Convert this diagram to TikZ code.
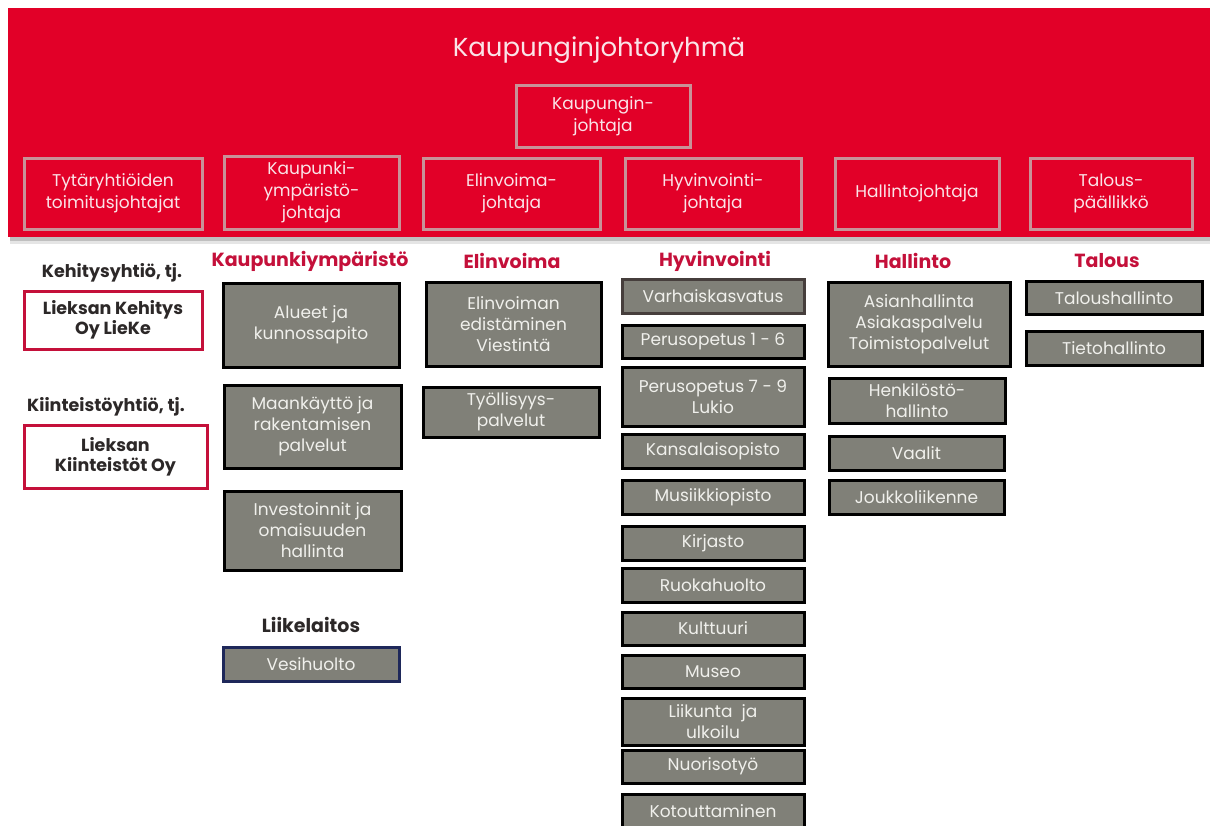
\documentclass[tikz,border=0pt]{standalone}
\usepackage{fontspec}
\setmainfont{Poppins}
\newfontfamily\pop{Poppins}
\definecolor{banred}{RGB}{226,0,40}
\definecolor{banborder}{RGB}{200,146,152}
\definecolor{bantext}{RGB}{250,228,232}
\definecolor{headred}{RGB}{196,16,58}
\definecolor{boxgray}{RGB}{128,128,120}
\definecolor{boxtext}{RGB}{240,240,236}
\definecolor{darktxt}{RGB}{44,40,40}
\definecolor{navyb}{RGB}{30,40,90}
\definecolor{brownb}{RGB}{70,62,60}
\newcommand\mytitlefont{\pop\fontsize{26}{30}\selectfont}
\newcommand\mybanfont{\pop\fontsize{17}{22}\selectfont}
\newcommand\myboxfont{\pop\fontsize{17}{21}\selectfont}
\newcommand\myheadfont{\pop\bfseries\fontsize{19}{22}\selectfont}
\newcommand\mylabfont{\pop\bfseries\fontsize{17.5}{20}\selectfont}
\tikzset{
  banbox/.style={draw=banborder, line width=3pt, text=bantext, align=center, font=\mybanfont, inner sep=0pt},
  gbox/.style={draw=black, line width=3pt, fill=boxgray, text=boxtext, align=center, font=\myboxfont, inner sep=0pt},
  rbox/.style={draw=headred, line width=3pt, fill=white, text=darktxt, align=center, font=\mylabfont, inner sep=0pt},
  head/.style={text=headred, font=\myheadfont, inner sep=0pt},
  lab/.style={text=darktxt, font=\mylabfont, inner sep=0pt},
  wh/.style n args={2}{minimum width=#1pt, minimum height=#2pt}
}
\begin{document}
\begin{tikzpicture}[x=1pt,y=-1pt]
\useasboundingbox (0,0) rectangle (1210,825);
\clip (0,0) rectangle (1210,825);
% banner with shadow
\fill[black!25] (10,236) rectangle (1210,241);
\fill[black!10] (10,241) rectangle (1210,244);
\fill[banred] (8,8) rectangle (1210,237);
\node[text=bantext, font=\mytitlefont, inner sep=0pt] (title) at (599,50) {Kaupunginjohtoryhmä};
\node[banbox, wh={174}{62}] (kj) at (603,116) {Kaupungin-\\johtaja};
\node[banbox, wh={178}{71}] (tyt) at (113,193.5) {Tytäryhtiöiden\\toimitusjohtajat};
\node[banbox, wh={175}{73}] (kyj) at (311.5,192.5) {Kaupunki-\\ympäristö-\\johtaja};
\node[banbox, wh={177}{71}] (elj) at (511.5,193.5) {Elinvoima-\\johtaja};
\node[banbox, wh={176}{71}] (hyj) at (713,193.5) {Hyvinvointi-\\johtaja};
\node[banbox, wh={164}{71}] (haj) at (917,193.5) {Hallintojohtaja};
\node[banbox, wh={162}{71}] (taj) at (1111,193.5) {Talous-\\päällikkö};
% left column
\node[lab] (keh) at (112,273) {Kehitysyhtiö, tj.};
\node[rbox, wh={178}{58}] (lieke) at (113,320) {Lieksan Kehitys\\Oy LieKe};
\node[lab] (kiin) at (106,407) {Kiinteistöyhtiö, tj.};
\node[rbox, wh={183}{63}] (liek) at (115.5,456.5) {Lieksan\\Kiinteistöt Oy};
% Kaupunkiympäristö
\node[head] (hky) at (310,261) {Kaupunkiympäristö};
\node[gbox, wh={176}{84}] (alu) at (311,325) {Alueet ja\\kunnossapito};
\node[gbox, wh={177}{83}] (maa) at (312.5,426.5) {Maankäyttö ja\\rakentamisen\\palvelut};
\node[gbox, wh={177}{79}] (inv) at (312.5,530.5) {Investoinnit ja\\omaisuuden\\hallinta};
\node[lab, font=\pop\bfseries\fontsize{19}{22}\selectfont] (lii) at (311,625) {Liikelaitos};
\node[gbox, draw=navyb, wh={176}{34}] (ves) at (311,664) {Vesihuolto};
% Elinvoima
\node[head] (hel) at (512,261) {Elinvoima};
\node[gbox, wh={175}{84}] (eli) at (513.5,324) {Elinvoiman\\edistäminen\\Viestintä};
\node[gbox, wh={176}{50}] (tyo) at (511,412) {Työllisyys-\\palvelut};
% Hyvinvointi
\node[head] (hhy) at (715,261) {Hyvinvointi};
\node[gbox, draw=brownb, wh={182}{34}] (var) at (713,296) {Varhaiskasvatus};
\node[gbox, wh={182}{33}] (p16) at (713,341.5) {Perusopetus 1 - 6};
\node[gbox, wh={182}{59}] (p79) at (713,396.5) {Perusopetus 7 - 9\\Lukio};
\node[gbox, wh={182}{34}] (kan) at (713,451) {Kansalaisopisto};
\node[gbox, wh={182}{34}] (mus) at (713,497) {Musiikkiopisto};
\node[gbox, wh={182}{34}] (kir) at (713,543) {Kirjasto};
\node[gbox, wh={182}{34}] (ruo) at (713,585) {Ruokahuolto};
\node[gbox, wh={182}{33}] (kul) at (713,628.5) {Kulttuuri};
\node[gbox, wh={182}{33}] (mus2) at (713,671.5) {Museo};
\node[gbox, wh={182}{47}] (lik) at (713,721.5) {Liikunta\ \ ja\\ulkoilu};
\node[gbox, wh={182}{33}] (nuo) at (713,766.5) {Nuorisotyö};
\node[gbox, wh={182}{34}] (kot) at (713,811) {Kotouttaminen};
% Hallinto
\node[head] (hha) at (913,261) {Hallinto};
\node[gbox, wh={182}{84}] (asi) at (919,324) {Asianhallinta\\Asiakaspalvelu\\Toimistopalvelut};
\node[gbox, wh={176}{45}] (hen) at (917,400.5) {Henkilöstö-\\hallinto};
\node[gbox, wh={175}{34}] (vaa) at (916.5,453) {Vaalit};
\node[gbox, wh={175}{34}] (jou) at (916.5,497) {Joukkoliikenne};
% Talous
\node[head] (hta) at (1107,261) {Talous};
\node[gbox, wh={176}{33}] (tal) at (1114,298) {Taloushallinto};
\node[gbox, wh={176}{34}] (tie) at (1114,348) {Tietohallinto};
\end{tikzpicture}
\end{document}
